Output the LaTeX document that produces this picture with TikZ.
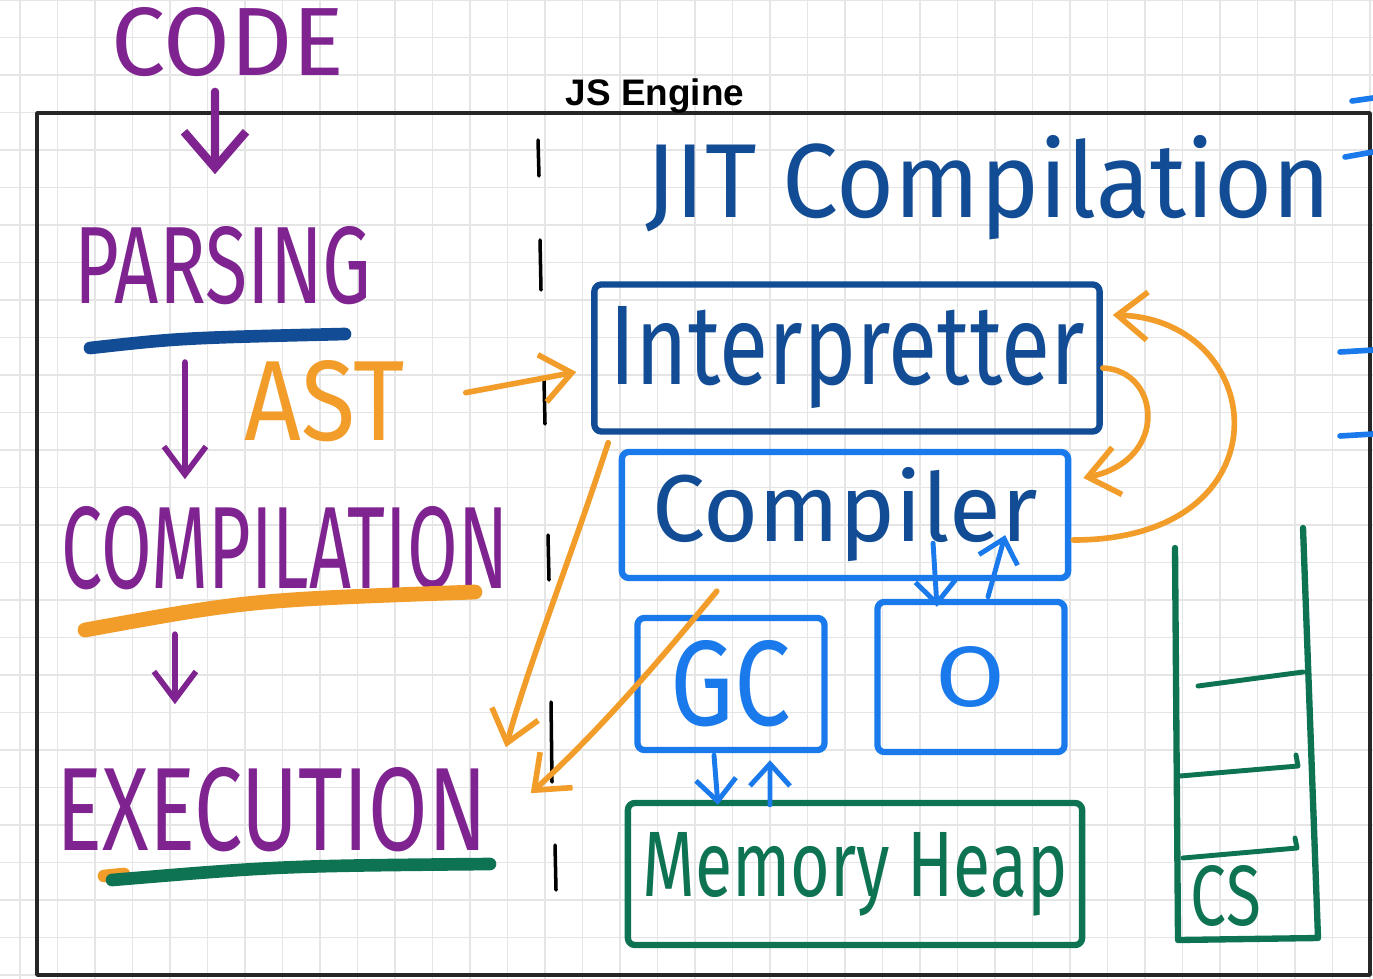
\documentclass[tikz,border=0pt]{standalone}
\usepackage{fontspec}
\setmainfont{Fira Sans}
\setsansfont{Liberation Sans}
\usepackage{graphicx}
\usetikzlibrary{arrows.meta}

\definecolor{mpurple}{HTML}{7E2390}
\definecolor{dblue}{HTML}{124C94}
\definecolor{bblue}{HTML}{1A7AEC}
\definecolor{morange}{HTML}{F29C2A}
\definecolor{mgreen}{HTML}{0E7352}
% text squeezed to the size it has in the sketch
\newcommand{\hw}[3]{\resizebox{#1}{#2}{#3}}

\begin{document}
\begin{tikzpicture}[x=0.01cm,y=-0.01cm,line cap=round,line join=round,
  hand/.style={inner sep=0pt,anchor=base},
  box/.style={rectangle,rounded corners=2pt,line width=1.8pt,inner sep=0pt},
  parr/.style={mpurple,line width=1.6pt,-{Straight Barb[length=0.28cm,width=0.42cm]}},
  oarr/.style={morange,line width=1.6pt,-{Straight Barb[length=0.3cm,width=0.48cm]}},
  barr/.style={bblue,line width=1.4pt,-{Straight Barb[length=0.22cm,width=0.4cm]}},
  uline/.style={line width=3.6pt},
  gridline/.style={black!10,line width=0.5pt}]
\useasboundingbox (0,0) rectangle (1373,979);
\fill[white] (0,0) rectangle (1373,979);
\foreach \gx in {20,57.5,...,1373} \draw[gridline] (\gx,0) -- (\gx,979);
\foreach \gy in {0,37.5,...,979} \draw[gridline] (0,\gy) -- (1373,\gy);
\draw[black!85,line width=1pt] (37,113) rectangle (1370,975);
\node[hand,font=\sffamily\bfseries\fontsize{10.5}{12}\selectfont] (engine) at (655,106) {JS Engine};

% left column
\node[hand,text=mpurple] (code) at (228,76) {\hw{2.33cm}{0.68cm}{CODE}};
\node[hand,text=mpurple] (parsing) at (223,304) {\hw{2.97cm}{0.77cm}{PARSING}};
\node[hand,text=morange] (ast) at (325,440) {\hw{1.6cm}{0.8cm}{AST}};
\node[hand,text=mpurple] (compilation) at (285,588) {\hw{4.46cm}{0.82cm}{COMPILATION}};
\node[hand,text=mpurple] (exec) at (272,850) {\hw{4.3cm}{0.83cm}{EXECUTION}};
\draw[uline,dblue] (90,348) .. controls (180,338) .. (345,334);
\draw[uline,morange,line width=4.2pt] (85,630) .. controls (250,600) .. (475,592);
\draw[uline,morange] (104,876) -- (124,874);
\draw[uline,mgreen] (112,880) .. controls (280,866) .. (490,864);
\draw[parr,line width=2.4pt,-{Straight Barb[length=0.36cm,width=0.62cm]}]
  ([xshift=-0.13cm,yshift=-0.14cm]code.south) -- ([xshift=-0.08cm,yshift=0.52cm]parsing.north);
\draw[parr] ([xshift=-0.38cm,yshift=-0.56cm]parsing.south) -- ([xshift=-1cm,yshift=0.26cm]compilation.north);
\draw[parr] ([xshift=-1.1cm,yshift=-0.44cm]compilation.south) -- ([xshift=-0.97cm,yshift=0.62cm]exec.north);

% dashed split
\foreach \xa/\ya/\yb in {538/140/176,540/240/290,544/380/424,548/535/580,551/702/782,555/845/890}
  \draw[black,line width=1pt] (\xa,\ya) -- (\xa+1,\yb);

% right side
\node[hand,text=dblue] (jit) at (988,218) {\hw{6.85cm}{0.82cm}{JIT Compilation}};
\node[box,draw=dblue,text=dblue,minimum width=5.05cm,minimum height=1.47cm] (interp) at (847,358) {\hw{4.75cm}{0.78cm}{Interpretter}};
\node[box,draw=bblue,text=dblue,minimum width=4.46cm,minimum height=1.26cm] (comp) at (845,515) {\hw{3.85cm}{0.74cm}{Compiler}};
\node[box,draw=bblue,text=bblue,minimum width=1.87cm,minimum height=1.32cm] (gc) at (731,684) {\hw{1.2cm}{0.85cm}{GC}};
\node[box,draw=bblue,text=bblue,minimum width=1.87cm,minimum height=1.5cm] (opt) at (971,677) {\hw{0.7cm}{0.6cm}{O}};
\node[box,draw=mgreen,text=mgreen,minimum width=4.54cm,minimum height=1.42cm] (heap) at (855,874) {\hw{4.25cm}{0.64cm}{Memory Heap}};

% call stack
\draw[mgreen,line width=1.8pt] (1175,548) -- (1178,940) -- (1318,938) -- (1303,528);
\draw[mgreen,line width=1.4pt] (1198,686) -- (1303,672);
\draw[mgreen,line width=1.4pt] (1180,776) -- (1298,766) -- (1296,755);
\draw[mgreen,line width=1.4pt] (1183,858) -- (1297,848) -- (1295,838);
\node[hand,text=mgreen] (cs) at (1226,925) {\hw{0.7cm}{0.6cm}{CS}};

% orange flows
\draw[oarr] ([xshift=0.6cm,yshift=0.08cm]ast.east) -- ([xshift=-0.15cm,yshift=-0.14cm]interp.west);
\draw[oarr] ([xshift=0.17cm,yshift=-0.08cm]interp.south west) .. controls (570,560) and (530,660) .. ([xshift=0.18cm,yshift=0.19cm]exec.north east);
\draw[oarr] ([xshift=0.98cm,yshift=-0.1cm]comp.south west) .. controls (660,660) and (600,730) .. ([xshift=0.43cm,yshift=0.16cm]exec.east);
\draw[oarr] ([yshift=-0.1cm]interp.east) .. controls (1160,370) and (1170,460) .. ([xshift=0.12cm,yshift=0.37cm]comp.east);
\draw[oarr] ([xshift=0.02cm,yshift=-0.25cm]comp.east) .. controls (1290,540) and (1270,320) .. ([xshift=0.1cm,yshift=0.43cm]interp.east);

% blue flows
\draw[barr] ([xshift=0.88cm,yshift=0.38cm]comp.south) -- ([xshift=-0.34cm,yshift=-0.08cm]opt.north);
\draw[barr] ([xshift=0.17cm,yshift=0.02cm]opt.north) -- ([xshift=1.6cm,yshift=0.46cm]comp.south);
\draw[barr] ([xshift=-0.17cm,yshift=-0.02cm]gc.south) -- ([xshift=-1.37cm,yshift=-0.05cm]heap.north);
\draw[barr] ([xshift=-0.85cm,yshift=-0.05cm]heap.north) -- ([xshift=0.39cm,yshift=-0.07cm]gc.south);

% cut-off marks at the right edge
\draw[bblue,line width=1.6pt] (1352,101) -- (1373,98);
\draw[bblue,line width=1.6pt] (1345,157) -- (1373,152);
\draw[bblue,line width=1.6pt] (1340,352) -- (1373,350);
\draw[bblue,line width=1.6pt] (1340,436) -- (1373,434);
\end{tikzpicture}
\end{document}
